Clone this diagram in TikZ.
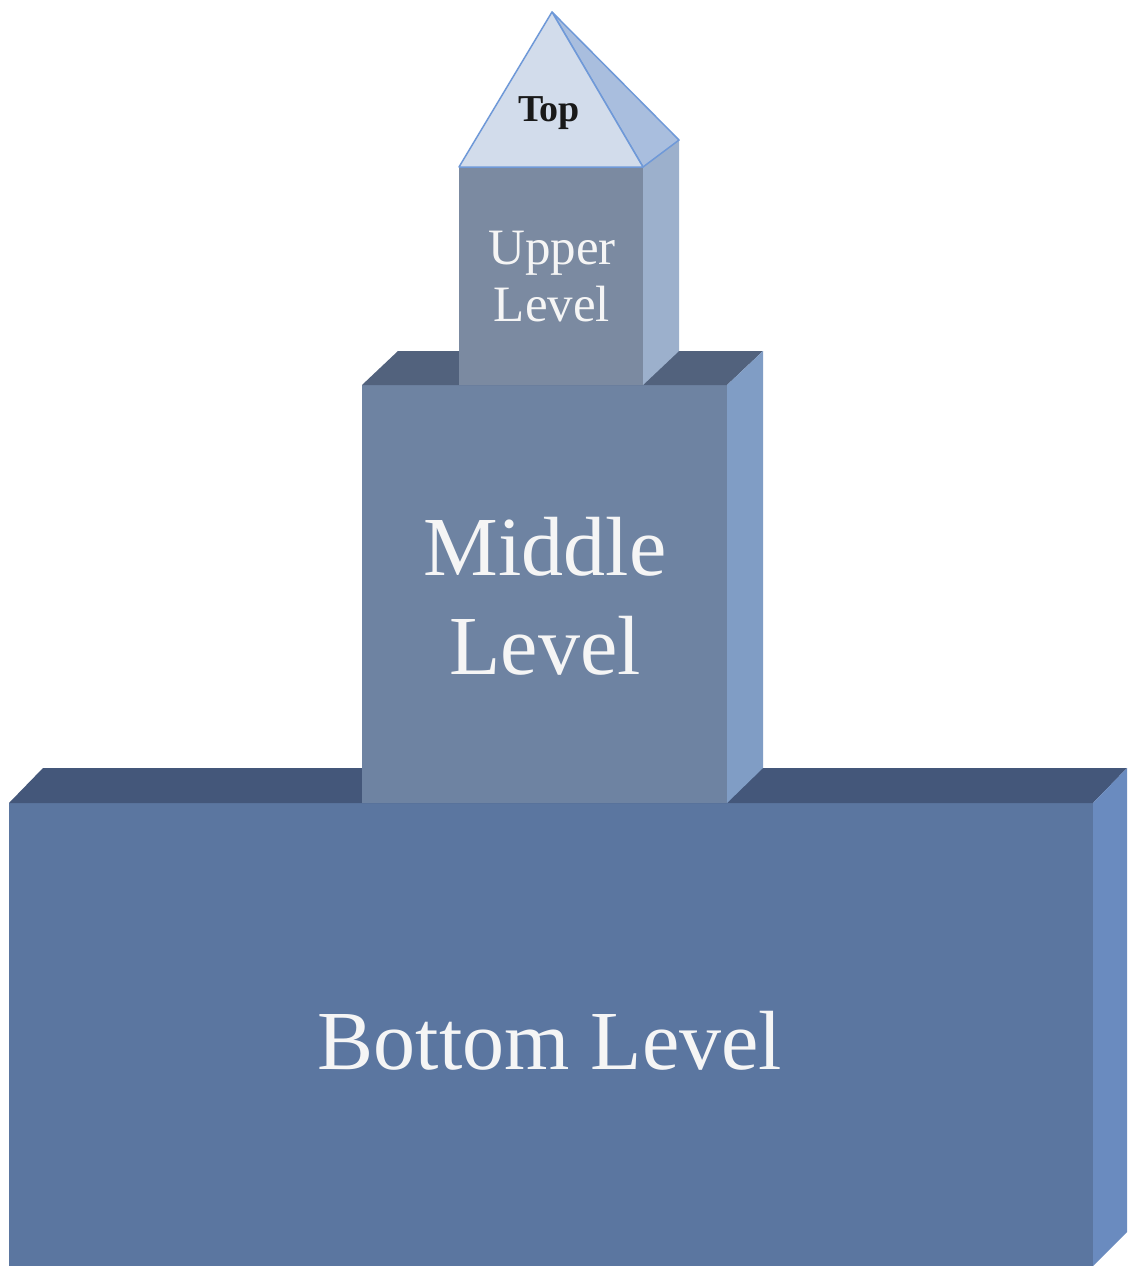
\documentclass[tikz,border=0pt]{standalone}
\usepackage{fontspec}
\setmainfont{Liberation Serif}
\begin{document}
\begin{tikzpicture}[x=1pt,y=-1pt,
  lbl/.style={text=white!96!black,align=center,inner sep=0pt}]
\definecolor{botfront}{HTML}{5B76A0}
\definecolor{bottop}{HTML}{44577A}
\definecolor{botside}{HTML}{6A8BBF}
\definecolor{midfront}{HTML}{6E83A2}
\definecolor{midtop}{HTML}{52627D}
\definecolor{midside}{HTML}{809DC5}
\definecolor{upfront}{HTML}{7B8AA1}
\definecolor{upside}{HTML}{9CB0CC}
\definecolor{pyrfront}{HTML}{D2DCEB}
\definecolor{pyrside}{HTML}{A9BEDE}
\definecolor{pyredge}{HTML}{6F99D8}
\useasboundingbox[fill=white] (0,0) rectangle (1127,1266);
% bottom block
\fill[botfront] (9,803) rectangle (1093,1266);
\fill[bottop] (9,803) -- (43,768) -- (1127,768) -- (1093,803) -- cycle;
\fill[botside] (1093,803) -- (1127,768) -- (1127,1232) -- (1093,1266) -- cycle;
% middle block
\fill[midfront] (362,385) rectangle (727,803);
\fill[midtop] (362,385) -- (398,351) -- (763,351) -- (727,385) -- cycle;
\fill[midside] (727,385) -- (763,351) -- (763,768) -- (727,803) -- cycle;
% upper block
\fill[upfront] (459,167) rectangle (643,385);
\fill[upside] (643,167) -- (679,140) -- (679,351) -- (643,385) -- cycle;
% pyramid
\filldraw[fill=pyrside,draw=pyredge,line width=1.5pt,line join=round] (552,12) -- (679,140) -- (643,167) -- cycle;
\filldraw[fill=pyrfront,draw=pyredge,line width=1.5pt,line join=round] (459,167) -- (552,12) -- (643,167) -- cycle;
% labels
\node[inner sep=0pt,text=black!90,font=\fontsize{38}{44}\selectfont\bfseries] (top) at (549,113) {Top};
\node[lbl,font=\fontsize{51}{57}\selectfont] (upper) at (552,277) {Upper\\Level};
\node[lbl,font=\fontsize{84}{99}\selectfont] (middle) at (545,596) {Middle\\Level};
\node[lbl,font=\fontsize{84}{99}\selectfont] (bottom) at (550,1041) {Bottom Level};
\end{tikzpicture}
\end{document}
